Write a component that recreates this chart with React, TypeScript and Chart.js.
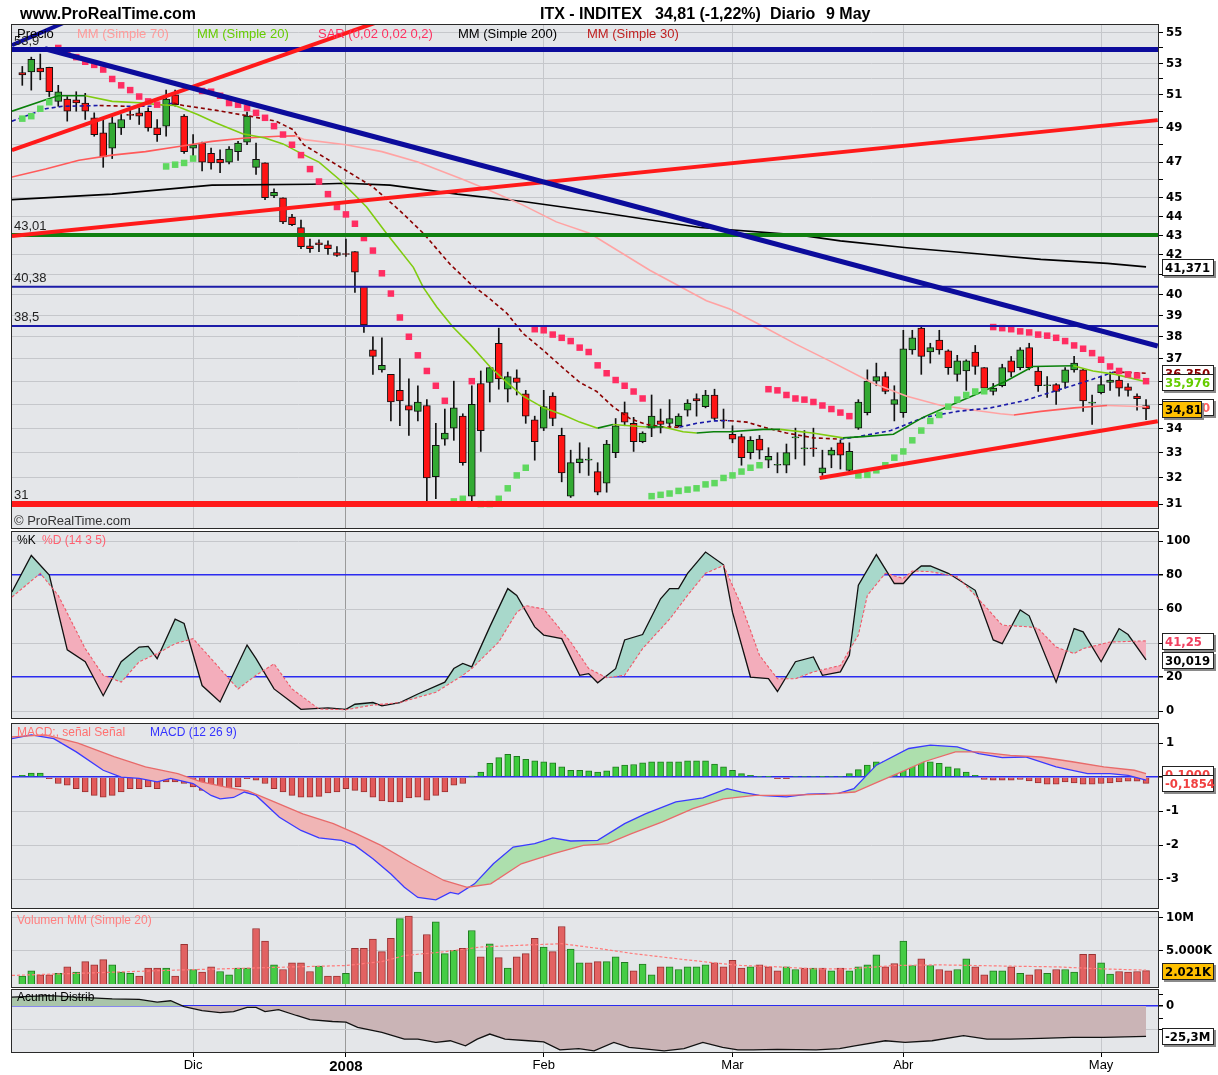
import React, { useEffect, useRef } from "react";
import { Chart, registerables } from "chart.js";

Chart.register(...registerables);

type Pt = [number, number];

// ---------------- DATA ----------------
const monthIdx = [19, 36, 58, 79, 98, 120];
const monthLabels = ["Dic", "2008", "Feb", "Mar", "Abr", "May"];

const openP = [
  52.4, 52.45, 52.7, 52.75, 50.6, 50.75, 50.7, 50.5, 49.6, 48.7,
  47.8, 49.0, 49.8, 49.9, 50.0, 49.0, 49.1, 51.0, 49.7, 47.8,
  48.1, 47.5, 47.15, 47.0, 47.6, 48.15, 46.7, 46.95, 45.1, 45.0,
  43.95, 43.4, 42.45, 42.6, 42.5, 42.1, 42.05, 42.15, 40.4, 37.4,
  36.5, 36.3, 35.6, 34.95, 34.7, 34.95, 32.05, 33.55, 34.0, 34.5,
  31.3, 35.9, 35.95, 37.7, 35.65, 36.15, 35.45, 34.35, 34.0, 35.35,
  33.7, 31.3, 32.6, 32.7, 32.25, 31.8, 33.0, 34.65, 34.2, 33.45,
  34.0, 34.3, 34.2, 34.1, 34.75, 35.25, 34.9, 35.4, 34.35, 33.75,
  33.65, 33.0, 33.55, 32.7, 32.5, 32.5, 33.6, 33.15, 33.2, 32.2,
  32.9, 33.4, 32.3, 34.0, 34.65, 36.0, 36.2, 35.0, 34.65, 37.4,
  38.4, 37.3, 37.85, 37.35, 36.3, 36.45, 37.3, 36.6, 35.55, 35.8,
  36.9, 36.6, 37.5, 36.45, 35.8, 35.85, 35.95, 36.5, 36.5, 35.05,
  35.5, 35.95, 36.05, 35.75, 35.35, 34.95,
];
const highP = [
  52.8, 53.4, 53.6, 52.75, 51.6, 50.9, 51.2, 51.1, 49.9, 49.5,
  49.7, 49.8, 50.2, 50.2, 50.2, 49.5, 51.3, 51.3, 49.8, 48.6,
  48.15, 47.8, 47.7, 47.9, 48.2, 49.95, 48.1, 46.95, 45.5, 45.0,
  44.1, 43.8, 42.8, 42.75, 42.7, 42.4, 42.8, 42.15, 40.4, 38.0,
  37.95, 36.3, 37.0, 36.1, 35.8, 35.2, 34.2, 34.8, 36.0, 34.6,
  35.8, 36.45, 36.6, 38.4, 36.4, 36.5, 35.6, 34.5, 35.6, 35.5,
  34.0, 33.1, 33.4, 33.2, 32.6, 33.5, 34.4, 35.1, 34.45, 33.85,
  35.4, 34.8, 35.2, 34.6, 35.2, 35.45, 35.6, 35.65, 34.8, 34.1,
  33.75, 33.65, 33.7, 33.2, 33.0, 33.35, 34.0, 33.9, 34.0, 33.1,
  33.2, 33.5, 33.4, 35.2, 36.5, 36.8, 36.4, 35.8, 38.3, 38.3,
  38.5, 37.7, 38.3, 37.4, 37.15, 36.95, 37.6, 36.6, 35.9, 36.75,
  37.1, 37.5, 37.7, 36.65, 36.2, 35.9, 36.6, 37.1, 36.55, 35.4,
  36.2, 36.4, 36.25, 35.9, 35.45, 35.2,
];
const lowP = [
  51.6, 51.3, 51.95, 50.9, 50.3, 49.4, 50.0, 49.5, 48.5, 46.7,
  47.2, 48.6, 49.5, 49.2, 48.8, 48.2, 48.5, 50.3, 47.5, 47.1,
  46.5, 46.6, 46.4, 46.9, 47.1, 48.0, 46.3, 44.9, 45.0, 43.6,
  43.5, 42.3, 42.1, 42.15, 42.0, 41.9, 41.9, 40.1, 38.2, 36.3,
  36.4, 34.3, 34.1, 33.7, 34.3, 31.1, 31.2, 33.3, 33.5, 32.5,
  31.1, 33.05, 35.1, 35.65, 35.1, 35.4, 34.2, 32.7, 33.9, 34.1,
  31.85, 31.25, 32.2, 32.1, 31.35, 31.45, 32.8, 34.1, 33.05, 33.4,
  33.65, 33.8, 34.0, 34.05, 34.5, 34.5, 34.85, 34.35, 34.0, 33.4,
  32.5, 32.75, 32.75, 32.4, 32.2, 32.2, 32.75, 32.5, 32.85, 32.1,
  32.4, 32.35, 32.25, 33.95, 34.55, 35.8, 35.45, 34.3, 34.45, 37.2,
  36.3, 36.8, 37.2, 36.3, 36.0, 35.6, 36.3, 35.6, 35.4, 35.75,
  36.2, 36.5, 36.5, 35.55, 35.3, 35.0, 35.7, 36.4, 34.7, 34.15,
  35.45, 35.6, 35.35, 35.35, 34.75, 34.35,
];
const closeP = [
  52.25, 53.25, 52.45, 51.2, 51.2, 50.0, 50.5, 50.0, 48.6, 47.3,
  49.3, 49.5, 49.75, 49.7, 49.0, 48.6, 50.75, 50.4, 47.6, 48.0,
  47.0, 46.95, 46.95, 47.75, 48.1, 49.7, 47.15, 45.0, 45.3, 43.7,
  43.55, 42.4, 42.3, 42.5, 42.3, 41.95, 42.0, 41.1, 38.55, 37.1,
  36.7, 35.1, 35.15, 34.75, 35.1, 32.0, 33.3, 33.8, 34.85, 32.6,
  35.0, 33.9, 36.6, 36.1, 36.2, 35.95, 34.5, 33.45, 34.9, 34.4,
  32.2, 32.6, 32.75, 32.7, 31.45, 33.35, 34.1, 34.25, 33.45, 33.8,
  34.5, 34.15, 34.4, 34.5, 35.05, 35.15, 35.4, 34.4, 34.3, 33.55,
  32.8, 33.5, 33.1, 32.85, 32.5, 33.0, 33.6, 33.15, 33.15, 32.4,
  33.1, 32.9, 33.05, 35.1, 36.0, 36.2, 35.55, 35.2, 37.45, 37.95,
  37.1, 37.5, 37.4, 36.6, 36.9, 36.9, 36.65, 35.7, 35.7, 36.6,
  36.4, 37.4, 36.6, 35.8, 35.8, 35.55, 36.5, 36.8, 35.15, 35.05,
  35.85, 36.05, 35.7, 35.6, 35.24, 34.81,
];

const ma20: Pt[] = [
  [-1.15, 50.0], [2.6, 50.7], [4, 50.95], [7, 50.95], [10, 50.6], [13.5, 50.5], [15, 50.4], [17, 50.35],
  [19.5, 49.8], [21.5, 49.3], [24.5, 48.65], [27, 48.4], [29, 48.05], [31, 47.5], [33, 47.0], [35.3, 46.0],
  [38.3, 44.5], [40.5, 43.1], [43.5, 41.35], [44.6, 40.35], [46.1, 39.4], [47.9, 38.45], [49.8, 37.65],
  [52, 36.65], [53.9, 35.95], [55.7, 35.35], [58, 34.85], [60.2, 34.55], [62, 34.25], [64, 34.0],
  [65.7, 34.15], [69.4, 34.05], [71.3, 34.05], [73.5, 33.85], [75, 33.8], [76.9, 33.85], [78.7, 33.85],
  [82.4, 33.95], [84.3, 33.95], [87.9, 33.8], [91.3, 33.6], [93.5, 33.65], [96.9, 33.75], [100.2, 34.45],
  [103.2, 34.95], [106.5, 35.5], [109.4, 36.0], [112.4, 36.65], [116.9, 36.68], [119.1, 36.45],
  [121.6, 36.3], [125, 35.976],
];
const ma30: Pt[] = [
  [-1.15, 49.4], [2.6, 50.15], [4.5, 50.3], [6.3, 50.32], [8.6, 50.35], [11.6, 50.3], [14.9, 50.3],
  [16.8, 50.5], [17.9, 50.35], [21.6, 50.05], [25.3, 49.7], [28.2, 49.4], [30.1, 48.9], [31.3, 48.0],
  [39, 45.6], [42, 44.3], [44.6, 43.1], [47.6, 41.5], [49.8, 40.55], [52, 39.8], [53.9, 39.1],
  [55.7, 38.15], [57.9, 37.4], [60.1, 36.6], [62, 35.95], [63.9, 35.55], [65.7, 34.9], [67.6, 34.4],
  [69.4, 34.15], [71.3, 34.05], [73.1, 34.04], [75, 34.2], [76.9, 34.3], [78.7, 34.31], [80.6, 34.25],
  [82.4, 34.05], [85, 33.8], [88, 33.6], [91, 33.55], [93, 33.65], [96.6, 33.9], [100.3, 34.45],
  [104, 34.7], [107.7, 34.85], [111.4, 35.15], [115.1, 35.6], [118.8, 36.05], [121.4, 36.4],
  [123.2, 36.38], [125, 36.35],
];
const ma70: Pt[] = [
  [-1.15, 46.15], [2.6, 46.6], [6.3, 47.1], [10, 47.4], [13.7, 47.6], [17.4, 47.9], [21.1, 48.2],
  [24.8, 48.4], [28.5, 48.5], [30.4, 48.52], [31.4, 48.3], [36, 48.0], [40, 47.6], [44, 47.0],
  [49.1, 46.0], [52, 45.4], [55.7, 44.6], [59.4, 43.7], [63.1, 43.1], [69.8, 41.2], [76.1, 39.7],
  [78.7, 39.3], [82.1, 38.55], [86.1, 37.65], [89.8, 36.9], [94.7, 35.9], [98.4, 35.35], [102.2, 34.95],
  [105.9, 34.75], [108.8, 34.6], [110.3, 34.55], [113.3, 34.7], [117, 34.85], [120.7, 34.95], [125, 34.9],
];
const ma200: Pt[] = [
  [-1.15, 44.9], [10, 45.2], [21.1, 45.7], [32.2, 45.75], [36, 45.8], [40.9, 45.7], [48.4, 45.2],
  [55.7, 44.8], [63.1, 44.3], [75.4, 43.4], [86.5, 43.0], [91, 42.7], [98.4, 42.35], [105.9, 42.05],
  [113.3, 41.75], [120.7, 41.55], [125, 41.371],
];

const sarUp: Pt[] = [
  [0, 49.55], [1, 49.7], [2, 50.15], [3, 50.55], [16, 46.75], [17, 46.85], [18, 46.95], [19, 47.2],
  [48, 31.1], [49, 31.2], [51, 31.0], [52, 31.0], [53, 31.2], [54, 31.6], [55, 32.1], [56, 32.4],
  [70, 31.3], [71, 31.35], [72, 31.4], [73, 31.5], [74, 31.55], [75, 31.6], [76, 31.75], [77, 31.8],
  [78, 32.0], [79, 32.1], [80, 32.25], [81, 32.4], [82, 32.5], [93, 32.1], [94, 32.12], [95, 32.3],
  [96, 32.5], [97, 32.8], [98, 33.05], [99, 33.5], [100, 33.9], [101, 34.3], [102, 34.55], [103, 34.9],
  [104, 35.2], [105, 35.4], [106, 35.55], [107, 35.56],
];
const sarDown: Pt[] = [
  [4, 54.0], [5, 53.7], [6, 53.4], [7, 53.1], [8, 52.9], [9, 52.6], [10, 52.0], [11, 51.6], [12, 51.3],
  [13, 50.9], [14, 50.6], [15, 50.4], [20, 51.25], [21, 51.2], [22, 50.95], [23, 50.5], [24, 50.4],
  [25, 50.2], [26, 49.9], [27, 49.6], [28, 49.1], [29, 48.6], [30, 48.0], [31, 47.4], [32, 46.6],
  [33, 45.9], [34, 45.2], [35, 44.5], [36, 44.1], [37, 43.6], [38, 42.85], [39, 42.2], [40, 41.05],
  [41, 40.05], [42, 38.9], [43, 38.0], [44, 37.15], [45, 36.45], [46, 35.8], [47, 35.15], [50, 36.0],
  [57, 38.35], [58, 38.3], [59, 38.1], [60, 37.95], [61, 37.8], [62, 37.5], [63, 37.3], [64, 36.7],
  [65, 36.35], [66, 36.05], [67, 35.8], [68, 35.55], [69, 35.25], [83, 35.65], [84, 35.6], [85, 35.4],
  [86, 35.25], [87, 35.2], [88, 35.1], [89, 34.95], [90, 34.8], [91, 34.65], [92, 34.5], [108, 38.45],
  [109, 38.4], [110, 38.35], [111, 38.25], [112, 38.2], [113, 38.1], [114, 38.05], [115, 37.95],
  [116, 37.8], [117, 37.6], [118, 37.45], [119, 37.25], [120, 36.95], [121, 36.65], [122, 36.45],
  [123, 36.3], [124, 36.25], [125, 36.0],
];

const levelValues = [53.9, 43.01, 40.38, 38.5, 31];
const levelLabels = ["53,9", "43,01", "40,38", "38,5", "31"];
const trendBlueDesc: Pt[] = [[2.52, 53.95], [126.3, 37.57]];
const trendBlueAsc: Pt[] = [[-1.15, 54.19], [5.3, 55.86]];
const trendRedSteep: Pt[] = [[-1.15, 47.69], [39.8, 55.79]];
const trendRedLong: Pt[] = [[-1.15, 42.95], [126.3, 49.46]];
const trendRedLow: Pt[] = [[88.7, 32.0], [126.3, 34.29]];

const mainGridVals = [31, 32, 33, 34, 35, 36, 37, 38, 39, 40, 41, 42, 43, 44, 45, 46, 47, 48, 49, 50, 51, 52, 53, 54, 55];
const mainLabelVals = [31, 32, 33, 34, 35, 36, 37, 38, 39, 40, 42, 43, 44, 45, 47, 49, 51, 53, 55];

const stochK: Pt[] = [
  [-1.15, 70], [1, 91.5], [3, 80], [5, 36], [7, 29], [9, 9], [11, 29], [13, 37.6], [14, 38], [15, 30.8],
  [17, 54], [18, 51.5], [20, 15], [22, 5.3], [25, 38.8], [26, 30.8], [28, 13], [31, 1], [34, 1.8], [36, 1],
  [37, 4], [39, 5], [40, 3], [42, 5], [44, 10], [47, 17], [48, 25], [49, 28], [50, 26], [52, 49.5],
  [54, 72], [55, 68], [57, 49.5], [58, 44.7], [60, 42.6], [62, 21], [63, 22], [64, 16.6], [66, 24.9],
  [67, 41.8], [69, 45], [71, 66], [72, 72], [73, 72], [74, 81], [76, 93.5], [78, 86], [79, 58], [81, 20],
  [83, 19], [84, 11.5], [86, 29], [88, 31.8], [89, 21], [91, 23], [92, 32.8], [93, 74], [95, 92], [97, 75],
  [98, 75], [99, 81], [100, 85.3], [101, 85.3], [103, 81], [106, 71], [108, 41.8], [109, 39.6], [111, 59.4],
  [112, 56], [115, 17], [117, 48.5], [118, 46.6], [120, 29], [122, 48.5], [123, 45], [125, 30.019],
];
const stochD: Pt[] = [
  [-1.15, 67], [2, 81], [4, 68], [7, 36.7], [9, 21], [11, 17], [13, 29], [15, 33.8], [17, 39.6], [19, 42.6],
  [21, 30.8], [24, 13], [26, 21], [28, 27.8], [30, 13], [33, 1.2], [36, 0.8], [39, 3.5], [42, 5], [46, 11],
  [49, 21], [50, 25], [53, 40.6], [55, 58], [56, 62], [58, 60], [61, 40.6], [63, 25], [65, 19.6], [67, 21],
  [69, 36.7], [72, 54], [74, 68], [76, 81], [78, 85.6], [80, 62], [82, 32.8], [84, 19], [86, 19], [88, 23],
  [91, 26.8], [93, 44.7], [94, 68], [96, 81], [98, 78], [99, 82.4], [101, 82], [104, 79], [106, 68],
  [109, 50.5], [112, 49.5], [113, 48.5], [115, 37.6], [117, 33.8], [118, 36.7], [121, 40.6], [125, 41.25],
];

const macdLine: Pt[] = [
  [-1.15, 1.13], [1, 1.24], [3.5, 1.13], [6, 0.74], [9, 0.2], [11, 0], [13, -0.04], [15, -0.14], [16.5, -0.04],
  [19, -0.19], [21, -0.54], [22, -0.64], [23.5, -0.6], [24.7, -0.44], [26, -0.54], [28.6, -1.18], [31, -1.57],
  [33, -1.79], [35.5, -1.86], [37, -2.01], [39, -2.4], [41, -2.85], [42.5, -3.24], [44, -3.54], [46, -3.61],
  [47.6, -3.39], [48.5, -3.44], [50.3, -3.14], [52.4, -2.55], [54.6, -2.06], [57, -1.96], [59, -1.79],
  [61, -1.88], [64, -1.86], [67, -1.37], [69.3, -1.08], [72.7, -0.73], [75.7, -0.61], [78.4, -0.34],
  [80, -0.44], [82, -0.54], [85, -0.58], [87.4, -0.5], [90.8, -0.48], [92.5, -0.34], [95, 0.35], [98.6, 0.84],
  [101, 0.94], [104, 0.89], [106.4, 0.69], [109, 0.57], [111.6, 0.59], [115, 0.3], [118.5, 0.1], [121, 0.1],
  [123, 0.05], [125, -0.09],
];
const signalLine: Pt[] = [
  [-1.15, 1.18], [2.6, 1.24], [6.2, 1.0], [10.2, 0.6], [13.7, 0.3], [17.3, 0.1], [19.9, -0.14], [22.5, -0.29],
  [25.1, -0.41], [27.7, -0.69], [31.2, -1.08], [34.6, -1.37], [37.2, -1.67], [39.9, -2.01], [43.4, -2.55],
  [46.9, -3.04], [49.5, -3.24], [52.1, -3.14], [55.5, -2.55], [59, -2.26], [62.4, -2.01], [65.1, -1.96],
  [67.7, -1.67], [71.2, -1.32], [74.6, -0.93], [78, -0.64], [81.5, -0.54], [84.9, -0.54], [89.3, -0.5],
  [92.6, -0.44], [95.2, -0.14], [97.8, 0.15], [100.3, 0.45], [103.8, 0.74], [106.4, 0.74], [109.9, 0.64],
  [113.3, 0.59], [116.8, 0.45], [120.3, 0.3], [123.7, 0.2], [125, 0.1],
];
const macdHist = [
  0.05, 0.12, 0.12, -0.05, -0.19, -0.24, -0.34, -0.44, -0.54, -0.59,
  -0.54, -0.44, -0.34, -0.34, -0.29, -0.34, -0.14, -0.14, -0.19, -0.29,
  -0.39, -0.49, -0.54, -0.54, -0.29, -0.05, -0.09, -0.19, -0.34, -0.44,
  -0.54, -0.59, -0.59, -0.57, -0.47, -0.44, -0.34, -0.39, -0.44, -0.59,
  -0.7, -0.73, -0.73, -0.61, -0.59, -0.68, -0.54, -0.44, -0.24, -0.19,
  0.03, 0.15, 0.4, 0.57, 0.67, 0.61, 0.52, 0.48, 0.45, 0.42,
  0.3, 0.2, 0.2, 0.18, 0.15, 0.18, 0.3, 0.35, 0.37, 0.42,
  0.45, 0.45, 0.45, 0.45, 0.48, 0.48, 0.48, 0.38, 0.3, 0.2,
  0.1, 0.05, 0.02, 0.01, -0.05, -0.05, 0.02, 0.02, 0.02, 0.01,
  0.02, 0.02, 0.1, 0.22, 0.35, 0.45, 0.45, 0.42, 0.52, 0.5,
  0.52, 0.45, 0.4, 0.3, 0.25, 0.15, 0.05, -0.07, -0.09, -0.09,
  -0.09, -0.07, -0.11, -0.17, -0.21, -0.21, -0.14, -0.17, -0.21, -0.21,
  -0.19, -0.17, -0.14, -0.12, -0.12, -0.1854,
];

const volumeM = [
  1.2, 2.0, 1.4, 1.4, 1.6, 2.6, 1.8, 3.4, 2.9, 3.7,
  2.9, 1.8, 1.6, 1.2, 2.4, 2.4, 2.4, 1.2, 6.0, 2.2,
  1.8, 2.6, 1.9, 1.4, 2.4, 2.4, 8.4, 6.5, 2.9, 2.2,
  3.2, 3.2, 1.9, 2.7, 1.2, 1.2, 1.6, 5.4, 5.4, 6.8,
  4.9, 6.9, 9.9, 10.3, 1.8, 7.5, 9.4, 4.6, 5.1, 5.4,
  8.1, 4.1, 6.1, 4.0, 2.4, 4.1, 4.6, 6.9, 5.6, 4.9,
  8.7, 5.3, 3.2, 3.2, 3.4, 3.4, 4.1, 3.3, 2.0, 3.0,
  1.4, 2.6, 2.6, 2.2, 2.6, 2.6, 2.9, 3.2, 2.6, 3.6,
  2.4, 2.6, 2.9, 2.6, 2.0, 2.6, 2.2, 2.4, 2.4, 2.4,
  2.0, 2.4, 2.0, 2.6, 2.9, 4.4, 2.6, 3.1, 6.5, 2.8,
  3.8, 2.8, 2.2, 2.0, 2.2, 3.8, 2.6, 1.4, 2.0, 2.0,
  2.6, 1.6, 1.4, 2.2, 1.6, 2.2, 2.2, 1.8, 4.5, 4.5,
  3.2, 1.5, 1.9, 1.8, 1.9, 2.021,
];
const volumeMA20: Pt[] = [
  [-1.15, 1.3], [8, 1.7], [17, 2.1], [25, 2.4], [36, 2.8], [40, 3.4], [42.5, 4.3], [47, 4.9], [51, 5.6],
  [56, 5.9], [60, 6.1], [64, 5.4], [68, 4.6], [73, 3.8], [77, 3.2], [80, 2.8], [84, 2.6], [88, 2.3],
  [92, 2.3], [97, 2.8], [102, 2.9], [106, 2.8], [110, 2.7], [115, 2.6], [120, 2.3], [125, 2.1],
];

const accDist: Pt[] = [
  [-1.15, 7.4], [3, 8.7], [6, 7.4], [10, 6], [13, 5.5], [15, 3.2], [16.5, 4.4], [18, -0.4], [20, -3.8],
  [22, -5.5], [23.5, -4.6], [25, -1.2], [26, -1.2], [27, -4.6], [28.5, -3.0], [30.5, -7.9], [32, -11.3],
  [34.5, -12.9], [36, -13.4], [37.3, -17.8], [40, -22], [42.5, -27.6], [44, -27.6], [46, -30.4], [47.6, -29],
  [49.3, -33.2], [50.6, -27.6], [52, -23.4], [53.7, -27.6], [56.3, -29], [58, -30], [59.8, -36.6],
  [61.9, -35.5], [63.6, -37.4], [65.8, -30.4], [67.5, -34.6], [71.4, -37.4], [73.6, -35.5], [75.7, -30.4],
  [77.9, -34.6], [79.6, -36.6], [81.3, -36.6], [84, -36.2], [88.3, -36.6], [90.9, -35.5], [92.6, -33.2],
  [96, -29], [98.2, -30.4], [101.2, -29], [104.7, -24.7], [107.3, -27.6], [109.9, -27.6], [113.3, -27],
  [116.8, -26.2], [120.3, -26.2], [125, -25.3],
];

// ---------------- LAYOUT / STYLE ----------------
const W = 1218;
const H = 1075;
const X_MIN = -1.146;
const X_MAX = 126.33;
const PLOT_LEFT = 12;
const AXIS_W = 60;
const BG = "#e4e6e9";
const GRID = "#c5c7cb";
const BLUE_LINE = "#2b2bf0";
const FONT = "'Liberation Sans', Arial, sans-serif";
const NARROW = "'Liberation Sans Narrow', 'Arial Narrow', 'DejaVu Sans Condensed', 'Liberation Sans', sans-serif";
const TICK_FONT = { family: NARROW, size: 13, weight: "bold" as const };
const UP = "#33aa33";
const DOWN = "#ff1414";

const pts = (a: Pt[]) => a.map(([x, y]) => ({ x, y }));
const fmt = (v: number, d: number) => v.toFixed(d).replace(".", ",");
const last = (a: Pt[]) => a[a.length - 1][1];

const framePlugin = {
  id: "panelFrame",
  beforeDraw(chart: any) {
    const { ctx, chartArea: a } = chart;
    ctx.save();
    ctx.fillStyle = BG;
    ctx.fillRect(a.left, a.top, a.right - a.left, a.bottom - a.top);
    ctx.restore();
  },
  afterDraw(chart: any) {
    const { ctx, chartArea: a } = chart;
    ctx.save();
    ctx.strokeStyle = "#2a2a2a";
    ctx.lineWidth = 1;
    ctx.strokeRect(Math.round(a.left) - 0.5, Math.round(a.top) - 0.5, Math.round(a.right - a.left) + 1, Math.round(a.bottom - a.top) + 1);
    ctx.restore();
  },
};

type Box = { value: number; text: string; color: string; bg?: string; width?: number };
const boxPlugin = (boxes: Box[]) => ({
  id: "valueBoxes",
  afterDraw(chart: any) {
    const { ctx } = chart;
    const ys = chart.scales.y;
    ctx.save();
    for (const b of boxes) {
      const py = Math.round(ys.getPixelForValue(b.value));
      const x = 1162;
      const h = 17;
      const w = b.width || 52;
      const top = py - 8;
      ctx.fillStyle = "#8a8a8a";
      ctx.fillRect(x + 2, top + 2, w, h);
      ctx.fillStyle = b.bg || "#ffffff";
      ctx.fillRect(x, top, w, h);
      ctx.strokeStyle = "#222";
      ctx.lineWidth = 1;
      ctx.strokeRect(x + 0.5, top + 0.5, w - 1, h - 1);
      ctx.fillStyle = b.color;
      ctx.font = `bold 13px ${NARROW}`;
      ctx.textBaseline = "middle";
      ctx.textAlign = "left";
      ctx.fillText(b.text, x + 3, top + h / 2 + 1);
    }
    ctx.restore();
  },
});

const levelLabelPlugin = {
  id: "levelLabels",
  afterDatasetsDraw(chart: any) {
    const { ctx } = chart;
    const ys = chart.scales.y;
    ctx.save();
    ctx.font = `13px ${FONT}`;
    ctx.fillStyle = "#222";
    ctx.textBaseline = "bottom";
    levelValues.forEach((v, i) => {
      ctx.fillText(levelLabels[i], 14, ys.getPixelForValue(v) - 2);
    });
    ctx.restore();
  },
};

function panelChart(
  canvas: HTMLCanvasElement,
  p: { top: number; bottom: number; lastPanel?: boolean; y: any; datasets: any[]; plugins: any[] }
) {
  const xAxisH = p.lastPanel ? 23 : 0;
  return new Chart(canvas, {
    type: "line",
    data: { datasets: p.datasets },
    options: {
      animation: false,
      responsive: false,
      devicePixelRatio: 1,
      events: [],
      layout: { padding: { left: PLOT_LEFT, right: 0, top: p.top, bottom: H - p.bottom - xAxisH } },
      plugins: { legend: { display: false }, tooltip: { enabled: false } },
      scales: {
        x: {
          type: "linear",
          bounds: "data",
          offset: false,
          min: X_MIN,
          max: X_MAX,
          position: "bottom",
          afterBuildTicks: (s: any) => {
            s.ticks = monthIdx.map((v) => ({ value: v }));
          },
          afterFit: (s: any) => {
            s.height = xAxisH;
          },
          border: { display: false },
          grid: {
            offset: false,
            color: (c: any) => (c.tick && c.tick.value === 36 ? "#9a9a9a" : GRID),
            drawTicks: !!p.lastPanel,
            tickLength: 5,
            tickColor: "#000",
          },
          ticks: {
            display: !!p.lastPanel,
            autoSkip: false,
            maxRotation: 0,
            padding: 1,
            color: "#000",
            callback: (v: any) => {
              const k = monthIdx.indexOf(v);
              return k >= 0 ? monthLabels[k] : "";
            },
            font: (c: any) =>
              c.tick && c.tick.value === 36
                ? { family: FONT, size: 15, weight: "bold" }
                : { family: FONT, size: 13 },
          },
        },
        y: {
          position: "right",
          bounds: "data",
          afterFit: (s: any) => {
            s.width = AXIS_W;
          },
          border: { display: false },
          ...p.y,
        },
      } as any,
    },
    plugins: [framePlugin, ...p.plugins],
  } as any);
}

const lineDs = (data: Pt[], color: string, width: number, extra: any = {}) => ({
  type: "line",
  data: pts(data),
  borderColor: color,
  borderWidth: width,
  pointRadius: 0,
  fill: false,
  tension: 0,
  ...extra,
});

const risingColor = (up: string, down: string) => ({
  borderColor: (c: any) => (c.p1.parsed.y >= c.p0.parsed.y ? up : down),
});

function buildMain(canvas: HTMLCanvasElement) {
  const idx = openP.map((_, i) => i);
  const datasets: any[] = [
    {
      type: "bar",
      data: idx.map((i) => ({ x: i, y: [lowP[i], highP[i]] })),
      backgroundColor: "#111",
      barThickness: 1,
      grouped: false,
      order: 40,
    },
    {
      type: "bar",
      data: idx.map((i) => ({ x: i, y: [openP[i], closeP[i]] })),
      backgroundColor: idx.map((i) => (closeP[i] >= openP[i] ? UP : DOWN)),
      borderColor: "#111",
      borderWidth: 1,
      borderSkipped: false,
      barThickness: 7,
      minBarLength: 1,
      grouped: false,
      order: 39,
    },
    lineDs(ma200, "#000", 1.6, { order: 30 }),
    lineDs(ma70, "#ff5a5a", 1.6, { order: 29, segment: risingColor("#ff5a5a", "#ffa3a3") }),
    lineDs(ma30, "#8b0000", 1.6, { order: 28, borderDash: [4, 3], segment: risingColor("#1a1aa8", "#8b0000") }),
    lineDs(ma20, "#008000", 1.6, { order: 27, segment: risingColor("#0a800a", "#80cc10") }),
    {
      type: "line",
      data: pts(sarDown),
      showLine: false,
      pointStyle: "rect",
      pointRadius: 4.6,
      pointBackgroundColor: "#ff2d62",
      pointBorderColor: "#ff2d62",
      pointBorderWidth: 0,
      order: 20,
    },
    {
      type: "line",
      data: pts(sarUp),
      showLine: false,
      pointStyle: "rect",
      pointRadius: 4.6,
      pointBackgroundColor: "#5fd85f",
      pointBorderColor: "#5fd85f",
      pointBorderWidth: 0,
      order: 20,
    },
  ];
  const levelStyles = [
    { color: "#0c0c9c", width: 5 },
    { color: "#108010", width: 4 },
    { color: "#1c1ca8", width: 2 },
    { color: "#1c1ca8", width: 2 },
    { color: "#ff1a1a", width: 6 },
  ];
  levelValues.forEach((v, i) => {
    datasets.push(lineDs([[X_MIN, v], [X_MAX, v]], levelStyles[i].color, levelStyles[i].width, { clip: 0, order: 5 }));
  });
  datasets.push(lineDs(trendRedLong, "#ff1a1a", 4, { clip: 0, order: 4 }));
  datasets.push(lineDs(trendRedSteep, "#ff1a1a", 4, { clip: 0, order: 4 }));
  datasets.push(lineDs(trendRedLow, "#ff1a1a", 4, { clip: 0, order: 4 }));
  datasets.push(lineDs(trendBlueDesc, "#0c0c9c", 5, { clip: 0, order: 3 }));
  datasets.push(lineDs(trendBlueAsc, "#0c0c9c", 4, { clip: 0, order: 3 }));

  const boxes: Box[] = [
    { value: last(ma200), text: fmt(last(ma200), 3), color: "#000" },
    { value: last(ma30), text: fmt(last(ma30), 3), color: "#8b0000" },
    { value: last(ma20), text: fmt(last(ma20), 3), color: "#66cc00" },
    { value: last(ma70), text: fmt(last(ma70), 3), color: "#ff6060" },
    { value: closeP[closeP.length - 1], text: fmt(closeP[closeP.length - 1], 2), color: "#000", bg: "#ffc000", width: 40 },
  ];

  return panelChart(canvas, {
    top: 25,
    bottom: 528,
    y: {
      type: "logarithmic",
      min: 30.11,
      max: 55.53,
      afterBuildTicks: (s: any) => {
        s.ticks = mainGridVals.map((v) => ({ value: v }));
      },
      grid: { color: GRID, drawTicks: true, tickLength: 5, tickColor: "#000" },
      ticks: {
        autoSkip: false,
        padding: 3,
        color: "#000",
        font: TICK_FONT,
        callback: (v: any) => (mainLabelVals.includes(v) ? String(v) : ""),
      },
    },
    datasets,
    plugins: [levelLabelPlugin, boxPlugin(boxes)],
  });
}

function buildStoch(canvas: HTMLCanvasElement) {
  const ticks = [0, 20, 40, 60, 80, 100];
  return panelChart(canvas, {
    top: 532,
    bottom: 718,
    y: {
      type: "linear",
      min: -4.1,
      max: 105.3,
      afterBuildTicks: (s: any) => {
        s.ticks = ticks.map((v) => ({ value: v }));
      },
      grid: {
        color: (c: any) => (c.tick && (c.tick.value === 20 || c.tick.value === 80) ? BLUE_LINE : GRID),
        lineWidth: (c: any) => (c.tick && (c.tick.value === 20 || c.tick.value === 80) ? 1.5 : 1),
        drawTicks: true,
        tickLength: 5,
        tickColor: "#000",
      },
      ticks: { autoSkip: false, padding: 3, color: "#000", font: TICK_FONT, callback: (v: any) => String(v) },
    },
    datasets: [
      lineDs(stochK, "#111", 1.3, { order: 2, fill: { target: 1, above: "#a8d8cb", below: "#f3adbb" } }),
      lineDs(stochD, "#f05868", 1.1, { order: 1, borderDash: [3, 2] }),
    ],
    plugins: [
      boxPlugin([
        { value: last(stochD), text: fmt(last(stochD), 2), color: "#f04060" },
        { value: last(stochK), text: fmt(last(stochK), 3), color: "#000" },
      ]),
    ],
  });
}

function buildMacd(canvas: HTMLCanvasElement) {
  const ticks = [-3, -2, -1, 0, 1];
  const histLast = macdHist[macdHist.length - 1];
  return panelChart(canvas, {
    top: 724,
    bottom: 908,
    y: {
      type: "linear",
      min: -3.85,
      max: 1.56,
      afterBuildTicks: (s: any) => {
        s.ticks = ticks.map((v) => ({ value: v }));
      },
      grid: {
        color: (c: any) => (c.tick && c.tick.value === 0 ? BLUE_LINE : GRID),
        lineWidth: (c: any) => (c.tick && c.tick.value === 0 ? 1.5 : 1),
        drawTicks: true,
        tickLength: 5,
        tickColor: "#000",
      },
      ticks: { autoSkip: false, padding: 3, color: "#000", font: TICK_FONT, callback: (v: any) => String(v) },
    },
    datasets: [
      {
        type: "bar",
        data: macdHist.map((v, i) => ({ x: i, y: v })),
        backgroundColor: macdHist.map((v) => (v >= 0 ? "#3ccc3c" : "#e25a5a")),
        borderColor: macdHist.map((v) => (v >= 0 ? "#1f7a1f" : "#9a3030")),
        borderWidth: 1,
        barThickness: 6,
        grouped: false,
        order: 10,
      },
      lineDs(macdLine, "#3a3aff", 1.3, { order: 3, fill: { target: 2, above: "#addfad", below: "#f0b5b5" } }),
      lineDs(signalLine, "#e86a6a", 1.3, { order: 2 }),
    ],
    plugins: [
      boxPlugin([
        { value: last(signalLine), text: fmt(last(signalLine), 4), color: "#f04040" },
        { value: histLast, text: fmt(histLast, 4), color: "#f04040" },
      ]),
    ],
  });
}

function buildVolume(canvas: HTMLCanvasElement) {
  const labels: Record<number, string> = { 5: "5.000K", 10: "10M" };
  const up = volumeM.map((_, i) => i === 0 || closeP[i] >= closeP[i - 1]);
  const vLast = volumeM[volumeM.length - 1];
  return panelChart(canvas, {
    top: 912,
    bottom: 987,
    y: {
      type: "linear",
      min: -0.45,
      max: 10.9,
      afterBuildTicks: (s: any) => {
        s.ticks = [5, 10].map((v) => ({ value: v }));
      },
      grid: { color: GRID, drawTicks: true, tickLength: 5, tickColor: "#000" },
      ticks: { autoSkip: false, padding: 3, color: "#000", font: TICK_FONT, callback: (v: any) => labels[v] || "" },
    },
    datasets: [
      {
        type: "bar",
        data: volumeM.map((v, i) => ({ x: i, y: v })),
        backgroundColor: up.map((u) => (u ? "#45cc45" : "#e26262")),
        borderColor: up.map((u) => (u ? "#217a21" : "#9a3232")),
        borderWidth: 1,
        barThickness: 7,
        grouped: false,
        order: 5,
      },
      lineDs(volumeMA20, "#ff7a7a", 1.2, { order: 1, borderDash: [3, 2] }),
    ],
    plugins: [
      boxPlugin([{ value: vLast, text: vLast.toFixed(3) + "K", color: "#000", bg: "#ffc000" }]),
    ],
  });
}

function buildAD(canvas: HTMLCanvasElement) {
  return panelChart(canvas, {
    top: 990,
    bottom: 1052,
    lastPanel: true,
    y: {
      type: "linear",
      min: -38.4,
      max: 13.4,
      afterBuildTicks: (s: any) => {
        s.ticks = [10, 0, -10, -20].map((v) => ({ value: v }));
      },
      grid: {
        color: (c: any) =>
          c.tick && c.tick.value === 0 ? BLUE_LINE : c.tick && c.tick.value === -20 ? GRID : "rgba(0,0,0,0)",
        lineWidth: (c: any) => (c.tick && c.tick.value === 0 ? 1.5 : 1),
        drawTicks: true,
        tickLength: 5,
        tickColor: "#000",
      },
      ticks: { autoSkip: false, padding: 3, color: "#000", font: TICK_FONT, callback: (v: any) => (v === 0 ? "0" : "") },
    },
    datasets: [
      lineDs(accDist, "#111", 1.3, { fill: { target: { value: 0 }, above: "#aac5aa", below: "#cab4b6" } }),
    ],
    plugins: [boxPlugin([{ value: last(accDist), text: fmt(last(accDist), 1) + "M", color: "#000" }])],
  });
}

function Txt(props: { x: number; y: number; size: number; color?: string; bold?: boolean; family?: string; children: React.ReactNode }) {
  return (
    <span
      style={{
        position: "absolute",
        left: props.x,
        top: props.y - props.size / 2 - 1,
        fontSize: props.size,
        lineHeight: `${props.size + 2}px`,
        color: props.color || "#000",
        fontWeight: props.bold ? "bold" : "normal",
        fontFamily: props.family || FONT,
        whiteSpace: "nowrap",
        zIndex: 5,
      }}
    >
      {props.children}
    </span>
  );
}

export default function App() {
  const r0 = useRef<HTMLCanvasElement>(null);
  const r1 = useRef<HTMLCanvasElement>(null);
  const r2 = useRef<HTMLCanvasElement>(null);
  const r3 = useRef<HTMLCanvasElement>(null);
  const r4 = useRef<HTMLCanvasElement>(null);

  useEffect(() => {
    const charts = [
      buildMain(r0.current!),
      buildStoch(r1.current!),
      buildMacd(r2.current!),
      buildVolume(r3.current!),
      buildAD(r4.current!),
    ];
    return () => charts.forEach((c) => c.destroy());
  }, []);

  const cstyle: React.CSSProperties = { position: "absolute", left: 0, top: 0, width: W, height: H };

  return (
    <div style={{ position: "absolute", left: 0, top: 0, width: W, height: H, background: "#fff", overflow: "hidden", fontFamily: FONT }}>
      <canvas ref={r0} width={W} height={H} style={cstyle} />
      <canvas ref={r1} width={W} height={H} style={cstyle} />
      <canvas ref={r2} width={W} height={H} style={cstyle} />
      <canvas ref={r3} width={W} height={H} style={cstyle} />
      <canvas ref={r4} width={W} height={H} style={cstyle} />

      <Txt x={20} y={14} size={16} bold>www.ProRealTime.com</Txt>
      <Txt x={540} y={14} size={16} bold>ITX - INDITEX</Txt>
      <Txt x={655} y={14} size={16} bold>34,81 (-1,22%)</Txt>
      <Txt x={770} y={14} size={16} bold>Diario</Txt>
      <Txt x={826} y={14} size={16} bold>9 May</Txt>

      <Txt x={17} y={33} size={13}>Precio</Txt>
      <Txt x={77} y={33} size={13} color="#ff9a9a">MM (Simple 70)</Txt>
      <Txt x={197} y={33} size={13} color="#66cc00">MM (Simple 20)</Txt>
      <Txt x={318} y={33} size={13} color="#ff3060">SAR (0,02 0,02 0,2)</Txt>
      <Txt x={458} y={33} size={13} color="#000">MM (Simple 200)</Txt>
      <Txt x={587} y={33} size={13} color="#c02020">MM (Simple 30)</Txt>
      <Txt x={14} y={520} size={13} color="#333">© ProRealTime.com</Txt>

      <Txt x={17} y={540} size={12}>%K</Txt>
      <Txt x={42} y={540} size={12} color="#ff6070">%D (14 3 5)</Txt>

      <Txt x={17} y={732} size={12} color="#ff7070">MACD:, señal Señal</Txt>
      <Txt x={150} y={732} size={12} color="#3333ff">MACD (12 26 9)</Txt>

      <Txt x={17} y={920} size={12} color="#ff8080">Volumen MM (Simple 20)</Txt>
      <Txt x={17} y={997} size={12} color="#000">Acumul Distrib</Txt>
    </div>
  );
}
